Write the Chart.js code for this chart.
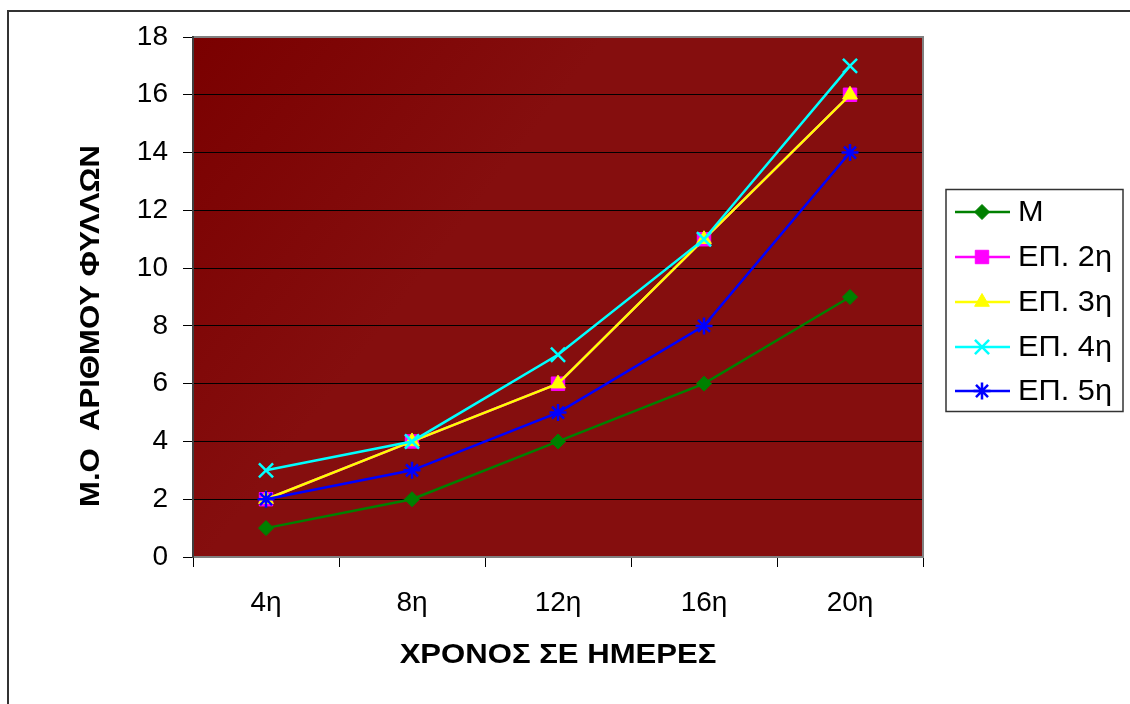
<!DOCTYPE html>
<html><head><meta charset="utf-8">
<script src="https://cdn.jsdelivr.net/npm/chart.js@4/dist/chart.umd.min.js"></script>
<style>html,body{margin:0;padding:0;background:#fff;overflow:hidden}#wrap{width:1130px;height:704px}</style>
</head><body><div id="wrap"><canvas id="c" width="1130" height="704"></canvas></div>
<script>
const categories = ['4η', '8η', '12η', '16η', '20η'];
const seriesNames = ['Μ', 'ΕΠ. 2η', 'ΕΠ. 3η', 'ΕΠ. 4η', 'ΕΠ. 5η'];
const valuesM   = [1, 2, 4, 6, 9];
const valuesEP2 = [2, 4, 6, 11, 16];
const valuesEP3 = [2, 4, 6, 11, 16];
const valuesEP4 = [3, 4, 7, 11, 17];
const valuesEP5 = [2, 3, 5, 8, 14];
const yMin = 0, yMax = 18, yStep = 2;
const xTitle = 'ΧΡΟΝΟΣ ΣΕ ΗΜΕΡΕΣ';
const yTitle = 'Μ.Ο  ΑΡΙΘΜΟΥ ΦΥΛΛΩΝ';

const FONT = '"Liberation Sans", Arial, sans-serif';

const styles = [
  {color: '#008000', pointStyle: 'rectRot', radius: 7.5},
  {color: '#FF00FF', pointStyle: 'rect', radius: 9.5},
  {color: '#FFFF00', pointStyle: 'triangle', radius: 8.5},
  {color: '#00FFFF', pointStyle: 'crossRot', radius: 10},
  {color: '#0000FF', pointStyle: 'star', radius: 8.5}
];
const seriesValues = [valuesM, valuesEP2, valuesEP3, valuesEP4, valuesEP5];

const datasets = seriesValues.map((vals, i) => ({
  label: seriesNames[i],
  data: vals,
  borderColor: styles[i].color,
  backgroundColor: styles[i].color,
  pointBackgroundColor: styles[i].color,
  pointBorderColor: styles[i].color,
  pointStyle: styles[i].pointStyle,
  pointRadius: styles[i].radius,
  pointBorderWidth: (styles[i].pointStyle === 'crossRot' || styles[i].pointStyle === 'star') ? 2.5 : 1,
  borderWidth: 2.5,
  tension: 0,
  fill: false,
  order: seriesValues.length - i
}));

function stretchedText(ctx, text, x, y, sx) {
  ctx.save();
  ctx.translate(x, y);
  ctx.scale(sx, 1);
  ctx.fillText(text, 0, 0);
  ctx.restore();
}

const framePlugin = {
  id: 'frame',
  beforeDraw(chart) {
    const ctx = chart.ctx;
    const a = chart.chartArea;
    ctx.save();
    ctx.fillStyle = '#fff';
    ctx.fillRect(0, 0, chart.width, chart.height);
    ctx.strokeStyle = '#333';
    ctx.lineWidth = 2;
    ctx.strokeRect(8, 11, 1300, 900);
    const g = ctx.createLinearGradient(a.left, a.top, a.left + 260, a.top + 200);
    g.addColorStop(0, '#7a0000');
    g.addColorStop(1, '#850e0e');
    ctx.fillStyle = g;
    ctx.fillRect(a.left, a.top, a.right - a.left, a.bottom - a.top);
    ctx.restore();
  },
  beforeDatasetsDraw(chart) {
    const ctx = chart.ctx;
    const a = chart.chartArea;
    ctx.save();
    ctx.strokeStyle = '#808080';
    ctx.lineWidth = 2;
    ctx.strokeRect(a.left, a.top, a.right - a.left, a.bottom - a.top);
    ctx.strokeStyle = '#404040';
    ctx.beginPath();
    ctx.moveTo(a.left, a.top - 1);
    ctx.lineTo(a.left, a.bottom + 1);
    ctx.stroke();
    ctx.restore();
  },
  afterDraw(chart) {
    const ctx = chart.ctx;
    ctx.save();
    ctx.fillStyle = '#000';
    ctx.font = 'bold 28px ' + FONT;
    ctx.textAlign = 'center';
    ctx.textBaseline = 'middle';
    stretchedText(ctx, xTitle, 558, 655, 1.11);
    ctx.translate(91, 326);
    ctx.rotate(-Math.PI / 2);
    stretchedText(ctx, yTitle, 0, 0, 1.11);
    ctx.restore();

    // legend
    ctx.save();
    ctx.fillStyle = '#fff';
    ctx.fillRect(946, 189, 177, 223);
    ctx.strokeStyle = '#333';
    ctx.lineWidth = 1.5;
    ctx.strokeRect(946, 189.5, 177, 222);
    const rows = [212, 257, 302, 347, 391];
    chart.data.datasets.forEach((ds, i) => {
      const y = rows[i];
      ctx.strokeStyle = ds.borderColor;
      ctx.lineWidth = 2.5;
      ctx.beginPath();
      ctx.moveTo(955, y);
      ctx.lineTo(1010, y);
      ctx.stroke();
      ctx.fillStyle = ds.pointBackgroundColor;
      ctx.strokeStyle = ds.pointBorderColor;
      ctx.lineWidth = ds.pointBorderWidth;
      Chart.helpers.drawPoint(ctx, {pointStyle: ds.pointStyle, rotation: 0, radius: ds.pointRadius, borderWidth: ds.pointBorderWidth}, 982, y);
      ctx.fillStyle = '#000';
      ctx.font = '29px ' + FONT;
      ctx.textAlign = 'left';
      ctx.textBaseline = 'middle';
      stretchedText(ctx, ds.label, 1018, y + 1, 1.06);
    });
    ctx.restore();
  }
};

new Chart(document.getElementById('c'), {
  type: 'line',
  data: {labels: categories, datasets},
  options: {
    responsive: false,
    animation: false,
    devicePixelRatio: 1,
    events: [],
    layout: {padding: {top: 37, right: 207, left: 0, bottom: 0}},
    plugins: {legend: {display: false}, tooltip: {enabled: false}, title: {display: false}},
    scales: {
      x: {
        offset: true,
        grid: {offset: true, drawOnChartArea: false, drawTicks: true, tickLength: 10, color: '#000', lineWidth: 1},
        border: {display: false},
        ticks: {color: '#000', font: {family: FONT, size: 28}, padding: 19, maxRotation: 0},
        afterFit(s) { s.height = 147; }
      },
      y: {
        min: yMin, max: yMax,
        grid: {color: '#000', lineWidth: 1, tickLength: 10, drawTicks: true},
        border: {display: false},
        ticks: {stepSize: yStep, color: '#000', font: {family: FONT, size: 28}, padding: 15},
        afterFit(s) { s.width = 193; }
      }
    }
  },
  plugins: [framePlugin]
});
</script>
</body></html>
